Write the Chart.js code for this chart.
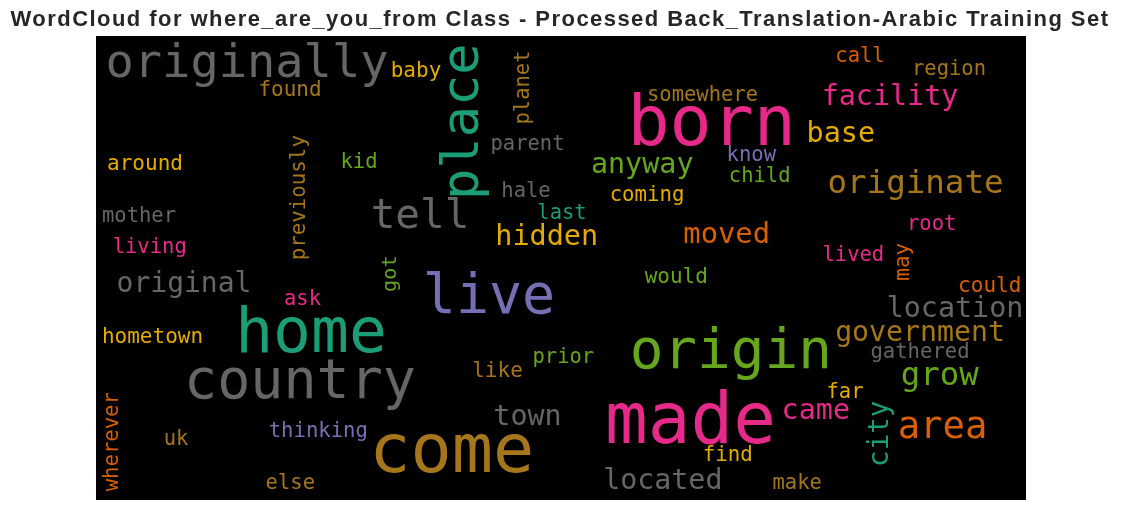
<!DOCTYPE html>
<html>
<head>
<meta charset="utf-8">
<script src="https://cdn.jsdelivr.net/npm/chart.js@4"></script>
<style>
  html, body { margin: 0; padding: 0; background: #fff; }
  #wrap { width: 1122px; height: 511px; }
</style>
</head>
<body>
<div id="wrap"><canvas id="cloudChart"></canvas></div>
<script>
// Word cloud layout: cloud units, 930 x 464 canvas
const words = [
  'originally', 'baby', 'found', 'parent', 'around', 'kid', 'tell', 'hale', 'mother', 'living',
  'hidden', 'call', 'region', 'somewhere', 'born', 'facility', 'base', 'anyway', 'know', 'child',
  'originate', 'coming', 'last', 'moved', 'root', 'lived', 'original', 'ask', 'live', 'home',
  'hometown', 'country', 'like', 'prior', 'town', 'uk', 'thinking', 'come', 'else', 'would',
  'could', 'location', 'government', 'origin', 'gathered', 'grow', 'far', 'made', 'came', 'area',
  'find', 'located', 'make',
  'place', 'planet', 'previously', 'wherever', 'got', 'may', 'city'
];
const wordX = [
  151, 320, 194, 431.5, 49, 263, 324, 430, 43, 53.7,
  450.7, 764, 853, 606.5, 615.7, 794, 744.8, 546.2, 655.3, 663.7,
  819.5, 551, 466, 630.7, 835.7, 757.3, 88, 206.5, 393, 215,
  56.5, 204, 401.5, 467.3, 431.5, 80, 222.3, 355.7, 194.3, 580.3,
  893.7, 859, 824, 634.8, 824, 843.7, 749, 594.5, 719.8, 846.5,
  631.8, 566.8, 701.2,
  381.5, 433, 209, 22, 300, 813, 792.4
];
const wordY = [
  41, 41, 59.7, 114, 134, 131.7, 192.3, 160.7, 185.7, 217,
  209, 25.7, 39, 64.7, 109, 69, 106.3, 136.7, 125, 146.3,
  156.7, 164.7, 183.3, 207.3, 194, 224.7, 255.7, 269, 277.3, 315.7,
  307.3, 362.3, 341.3, 327.3, 389, 409, 401.3, 435.7, 453.3, 246.7,
  255.7, 280.7, 305, 332.3, 322.3, 349, 361.7, 407.3, 383.3, 402.3,
  425, 453, 453.3,
  85.7, 51.5, 161.7, 405.7, 237.7, 225.7, 397.8
];
// relative frequency, shown as font size
const wordWeight = [
  47, 21, 21, 20.5, 21, 20.5, 41, 20.5, 20.5, 20.5,
  28.5, 20.5, 20.5, 20.5, 70, 28.4, 28.4, 28.4, 20.5, 20.5,
  32.5, 20.7, 20.5, 28.8, 20.5, 20.5, 28, 20.5, 55, 63,
  21, 55, 21, 20.5, 28.4, 20.5, 20.6, 68.5, 20.5, 21,
  21, 28.4, 28.2, 56, 20.6, 32.3, 20.5, 71, 28.4, 37.2,
  20.8, 28.3, 20.5,
  52, 20.5, 20.8, 20.6, 20.2, 21, 27.5
];
// index into the Dark2 colormap
const wordColor = [
  7, 5, 6, 7, 5, 4, 7, 7, 7, 3,
  5, 1, 6, 6, 3, 3, 5, 4, 2, 4,
  6, 5, 0, 1, 3, 3, 7, 3, 2, 0,
  5, 7, 6, 4, 7, 6, 2, 6, 6, 4,
  1, 7, 6, 4, 7, 4, 5, 3, 3, 1,
  5, 7, 6,
  0, 6, 6, 1, 4, 1, 0
];
const verticalWords = ['place', 'planet', 'previously', 'wherever', 'got', 'may', 'city'];

const chartTitle = 'WordCloud for where_are_you_from Class - Processed Back_Translation-Arabic Training Set';

const dark2 = ['#1b9e77', '#d95f02', '#7570b3', '#e7298a', '#66a61e', '#e6ab02', '#a6761d', '#666666'];

const cloudPoints = words.map((w, i) => ({ x: wordX[i], y: wordY[i] }));

// Draws the black canvas and the words at their scaled positions
const wordCloudPlugin = {
  id: 'wordCloud',
  beforeDatasetsDraw(chart) {
    const { ctx, chartArea } = chart;
    ctx.save();
    ctx.fillStyle = '#000000';
    ctx.fillRect(chartArea.left, chartArea.top, chartArea.right - chartArea.left, chartArea.bottom - chartArea.top);
    ctx.restore();
  },
  afterDatasetsDraw(chart) {
    const { ctx } = chart;
    const xScale = chart.scales.x;
    const yScale = chart.scales.y;
    const unit = (xScale.getPixelForValue(930) - xScale.getPixelForValue(0)) / 930;
    ctx.save();
    ctx.textAlign = 'center';
    ctx.textBaseline = 'alphabetic';
    words.forEach((w, i) => {
      const px = xScale.getPixelForValue(wordX[i]);
      const py = yScale.getPixelForValue(wordY[i]);
      ctx.font = (wordWeight[i] * unit).toFixed(1) + 'px "DejaVu Sans Mono", monospace';
      ctx.fillStyle = dark2[wordColor[i]];
      ctx.save();
      ctx.translate(px, py);
      if (verticalWords.includes(w)) ctx.rotate(-Math.PI / 2);
      ctx.fillText(w, 0, 0);
      ctx.restore();
    });
    ctx.restore();
  },
  // title drawn here so it can get the wider letter spacing of the original
  afterDraw(chart) {
    const { ctx, chartArea } = chart;
    ctx.save();
    ctx.font = 'bold 22px "Liberation Sans", Arial, sans-serif';
    ctx.fillStyle = '#262626';
    ctx.textAlign = 'center';
    ctx.textBaseline = 'alphabetic';
    if ('letterSpacing' in ctx) ctx.letterSpacing = '1.45px';
    ctx.fillText(chartTitle, (chartArea.left + chartArea.right) / 2 - 1, chartArea.top - 10);
    ctx.restore();
  }
};

const cloudCtx = document.getElementById('cloudChart').getContext('2d');
const cloudChart = new Chart(cloudCtx, {
  type: 'scatter',
  data: {
    datasets: [{
      label: 'words',
      data: cloudPoints,
      pointRadius: 0,
      pointHoverRadius: 0
    }]
  },
  options: {
    responsive: true,
    maintainAspectRatio: false,
    animation: false,
    layout: {
      padding: { left: 96, right: 96, top: 36, bottom: 11 }
    },
    plugins: {
      legend: { display: false },
      tooltip: { enabled: false },
      title: { display: false }
    },
    scales: {
      x: { type: 'linear', min: 0, max: 930, display: false },
      y: { type: 'linear', min: 0, max: 464, reverse: true, display: false }
    }
  },
  plugins: [wordCloudPlugin]
});
</script>
</body>
</html>
